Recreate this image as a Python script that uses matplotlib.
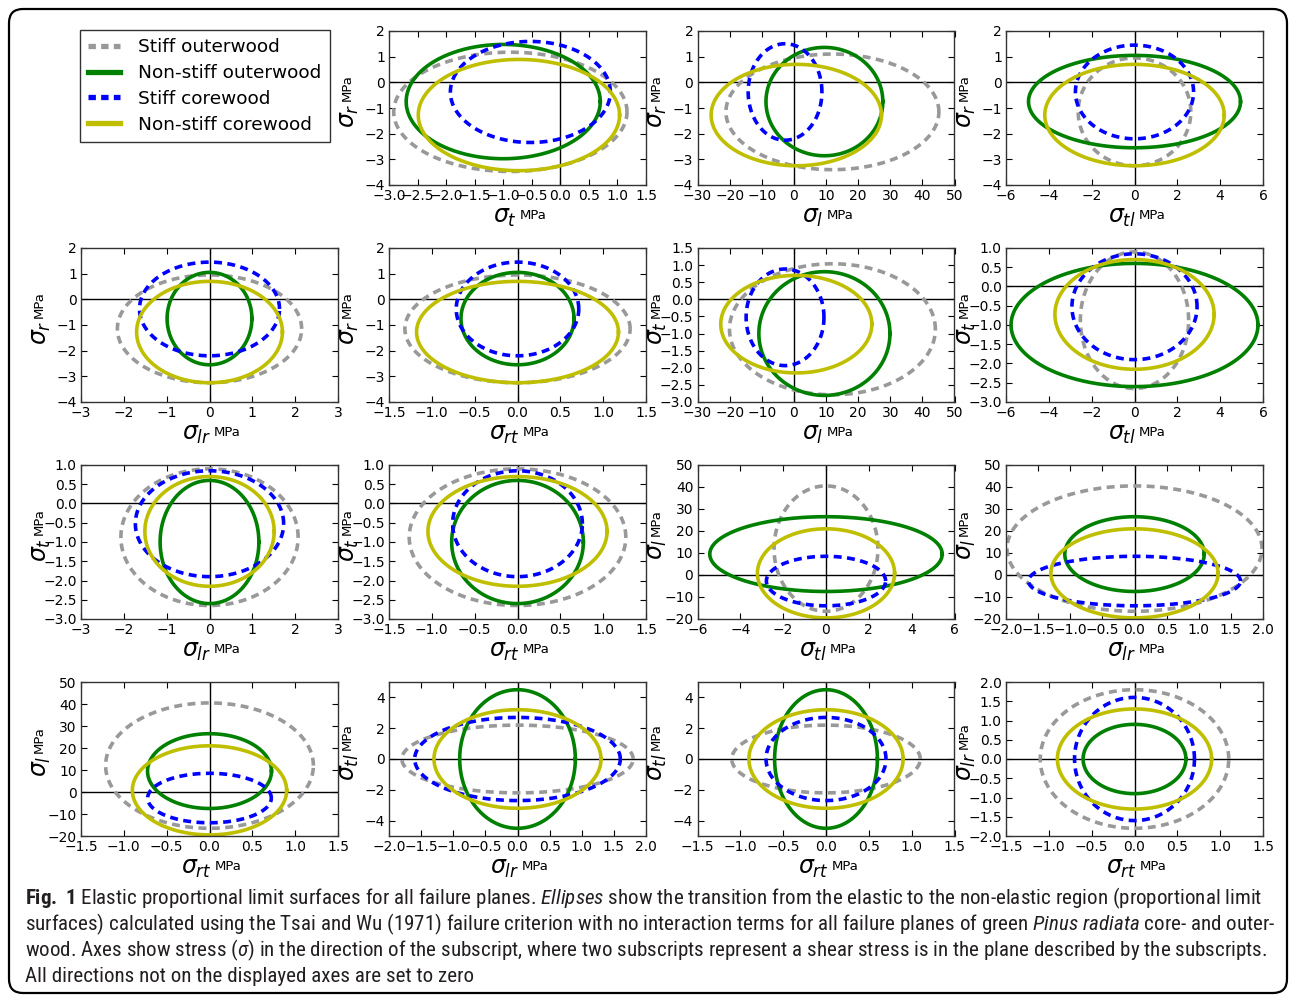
import numpy as np
import matplotlib.pyplot as plt
from matplotlib.patches import FancyBboxPatch
from matplotlib.lines import Line2D
from matplotlib.ticker import MultipleLocator
from matplotlib import font_manager

plt.rcParams.update({
    "font.family": "DejaVu Sans",
    "xtick.direction": "in",
    "ytick.direction": "in",
    "xtick.top": True,
    "ytick.right": True,
    "xtick.major.size": 4,
    "ytick.major.size": 4,
    "xtick.labelsize": 10,
    "ytick.labelsize": 10,
    "axes.linewidth": 1.0,
    "axes.edgecolor": "#333333",
    "mathtext.fontset": "dejavusans",
})

materials = ["Stiff outerwood", "Non-stiff outerwood", "Stiff corewood", "Non-stiff corewood"]
colors = ["#999999", "#008000", "#0000ff", "#bfbf00"]
styles = ["--", "-", "--", "-"]

l_tension = [40.5, 26.5, 8.5, 21.0]
l_compression = [16.5, 7.5, 14.0, 19.5]
r_tension = [0.95, 1.05, 1.45, 0.70]
r_compression = [3.25, 2.55, 2.20, 3.25]
t_tension = [0.90, 0.60, 0.85, 0.70]
t_compression = [2.65, 2.60, 1.90, 2.15]
shear_lr = [1.8, 0.9, 1.6, 1.3]
shear_rt = [1.1, 0.6, 0.7, 0.9]
shear_tl = [2.2, 4.5, 2.7, 3.2]

normal = {"l": (l_tension, l_compression),
          "r": (r_tension, r_compression),
          "t": (t_tension, t_compression)}
shear = {"lr": shear_lr, "rt": shear_rt, "tl": shear_tl}

# x key, y key, xlim, ylim, xstep, ystep
panels = [
    ("t", "r", (-3, 1.5), (-4, 2), 0.5, 1),
    ("l", "r", (-30, 50), (-4, 2), 10, 1),
    ("tl", "r", (-6, 6), (-4, 2), 2, 1),
    ("lr", "r", (-3, 3), (-4, 2), 1, 1),
    ("rt", "r", (-1.5, 1.5), (-4, 2), 0.5, 1),
    ("l", "t", (-30, 50), (-3, 1.5), 10, 0.5),
    ("tl", "t", (-6, 6), (-3, 1), 2, 0.5),
    ("lr", "t", (-3, 3), (-3, 1), 1, 0.5),
    ("rt", "t", (-1.5, 1.5), (-3, 1), 0.5, 0.5),
    ("tl", "l", (-6, 6), (-20, 50), 2, 10),
    ("lr", "l", (-2, 2), (-20, 50), 0.5, 10),
    ("rt", "l", (-1.5, 1.5), (-20, 50), 0.5, 10),
    ("lr", "tl", (-2, 2), (-5, 5), 0.5, 2),
    ("rt", "tl", (-1.5, 1.5), (-5, 5), 0.5, 2),
    ("rt", "lr", (-1.5, 1.5), (-2, 2), 0.5, 0.5),
]


def coeffs(key, i):
    if key in normal:
        xt, xc = normal[key][0][i], normal[key][1][i]
        return 1 / xt - 1 / xc, 1 / (xt * xc)
    s = shear[key][i]
    return 0.0, 1 / s ** 2


def ellipse(xkey, ykey, i):
    f1, f11 = coeffs(xkey, i)
    f2, f22 = coeffs(ykey, i)
    k = 1 + f1 ** 2 / (4 * f11) + f2 ** 2 / (4 * f22)
    th = np.linspace(0, 2 * np.pi, 400)
    x = -f1 / (2 * f11) + np.sqrt(k / f11) * np.cos(th)
    y = -f2 / (2 * f22) + np.sqrt(k / f22) * np.sin(th)
    return x, y


W, H = 1296, 1002
fig = plt.figure(figsize=(W / 100, H / 100), dpi=100)

bg = fig.add_axes([0, 0, 1, 1], zorder=-5)
bg.set_xlim(0, W)
bg.set_ylim(H, 0)
bg.axis("off")
bg.add_patch(FancyBboxPatch((9, 9), W - 18, H - 18,
                            boxstyle="round,pad=0,rounding_size=14",
                            fc="white", ec="black", lw=1.6))

lefts = [81, 389, 697.5, 1006]
tops = [31, 248, 465, 682]
aw, ah = 257, 154

for n, (xk, yk, xl, yl, xs, ys) in enumerate(panels):
    r, c = divmod(n + 1, 4)
    ax = fig.add_axes([lefts[c] / W, 1 - (tops[r] + ah) / H, aw / W, ah / H])
    ax.axhline(0, color="black", lw=1.0, zorder=1)
    ax.axvline(0, color="black", lw=1.0, zorder=1)
    for i in range(len(materials)):
        x, y = ellipse(xk, yk, i)
        ax.plot(x, y, styles[i], color=colors[i], lw=2.6, zorder=2,
                dashes=(2.2, 1.5) if styles[i] == "--" else (None, None))
    ax.set_xlim(*xl)
    ax.set_ylim(*yl)
    ax.xaxis.set_major_locator(MultipleLocator(xs))
    ax.yaxis.set_major_locator(MultipleLocator(ys))
    ax.tick_params(pad=3, colors="black")

    ax.set_xlabel(r"$\sigma_{%s}$" % xk, fontsize=17, labelpad=1)
    ax.xaxis.label.set_x(0.45)
    ax.annotate("MPa", xy=(1, 1), xycoords=ax.xaxis.label, xytext=(2, -3),
                textcoords="offset points", ha="left", va="top", fontsize=9.5)
    ax.set_ylabel(r"$\sigma_{%s}$" % yk, fontsize=17)
    ax.yaxis.set_label_coords(-0.11, 0.45)
    ax.annotate("MPa", xy=(0, 1), xycoords=ax.yaxis.label, xytext=(3, 2),
                textcoords="offset points", ha="left", va="bottom",
                rotation=90, fontsize=9.5)

handles = [Line2D([], [], ls=styles[i], color=colors[i], lw=3.8,
                  dashes=(1.4, 1.0) if styles[i] == "--" else (None, None))
           for i in range(len(materials))]
leg = fig.legend(handles, materials, loc="upper left",
                 bbox_to_anchor=(80 / W, 1 - 30 / H), borderaxespad=0,
                 fontsize=13.3, fancybox=False, edgecolor="black",
                 handlelength=1.7, handletextpad=1.0, labelspacing=0.42,
                 borderpad=0.45)
leg.get_frame().set_linewidth(1.0)

# caption
names = {f.name for f in font_manager.fontManager.ttflist}
cap_font = "DejaVu Sans"
for cand in ["Liberation Sans Narrow", "Roboto Condensed", "Open Sans Condensed",
             "DejaVu Sans Condensed", "Lato", "Roboto"]:
    if cand in names:
        cap_font = cand
        break
plt.rcParams.update({
    "mathtext.rm": cap_font,
    "mathtext.it": cap_font + ":italic",
    "mathtext.bf": cap_font + ":bold",
})
caption = [
    r"$\mathbf{Fig.\ 1}$ Elastic proportional limit surfaces for all failure planes. $\mathit{Ellipses}$ show the transition from the elastic to the non-elastic region (proportional limit",
    r"surfaces) calculated using the Tsai and Wu (1971) failure criterion with no interaction terms for all failure planes of green $\mathit{Pinus\ radiata}$ core- and outer-",
    r"wood. Axes show stress ($\mathit{\sigma}$) in the direction of the subscript, where two subscripts represent a shear stress is in the plane described by the subscripts.",
    "All directions not on the displayed axes are set to zero",
]
texts = []
for j, line in enumerate(caption):
    texts.append(bg.text(25, 898 + 26 * j, line, fontsize=12, family=cap_font,
                         math_fontfamily="custom", color="#231f20",
                         va="center", ha="left"))
renderer = fig.canvas.get_renderer()
scale = 1237 / texts[0].get_window_extent(renderer).width
for t in texts:
    t.set_fontsize(12 * scale)

fig.savefig("out.png", dpi=100)
